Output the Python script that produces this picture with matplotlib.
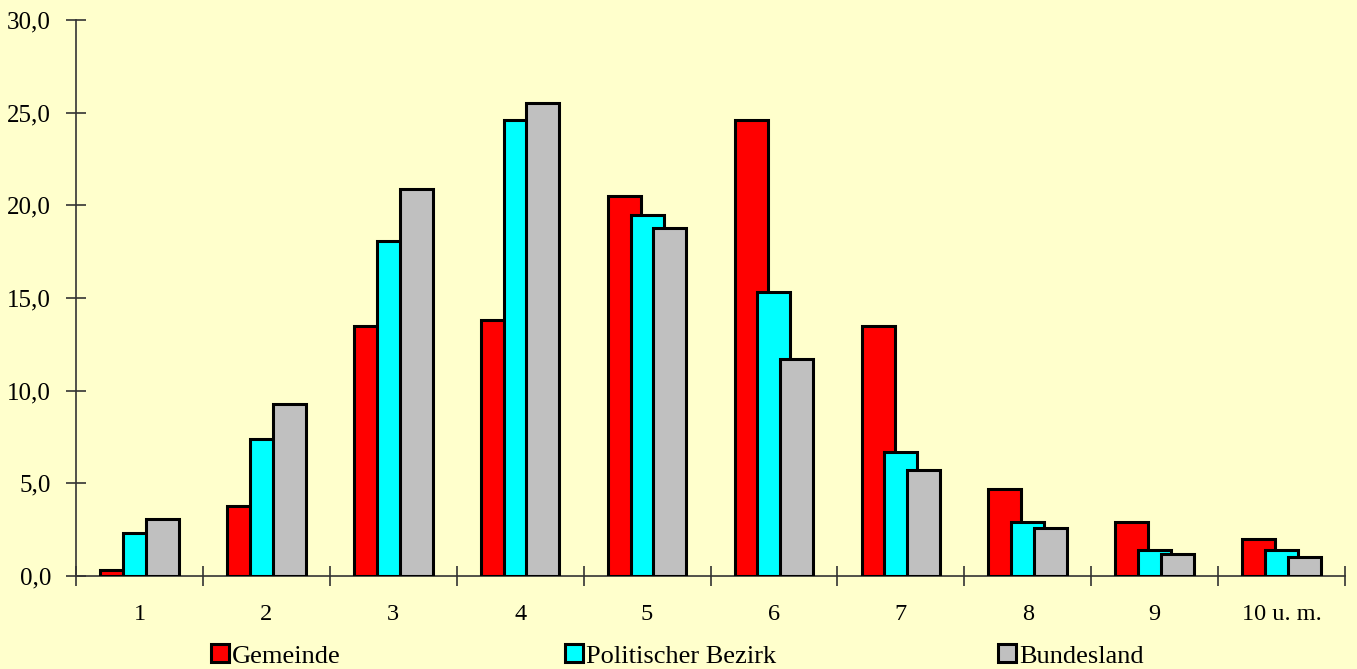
import matplotlib
matplotlib.use("Agg")
import matplotlib.pyplot as plt
import numpy as np
from matplotlib.ticker import FuncFormatter, FixedLocator
from matplotlib.patches import Patch

categories = ["1", "2", "3", "4", "5", "6", "7", "8", "9", "10 u. m."]
series_names = ["Gemeinde", "Politischer Bezirk", "Bundesland"]
gemeinde = [0.3, 3.8, 13.5, 13.8, 20.5, 24.6, 13.5, 4.7, 2.9, 2.0]
bezirk = [2.3, 7.4, 18.1, 24.6, 19.5, 15.3, 6.7, 2.9, 1.4, 1.4]
bundesland = [3.1, 9.3, 20.9, 25.5, 18.8, 11.7, 5.7, 2.6, 1.2, 1.0]
colors = ["#FF0000", "#00FFFF", "#C0C0C0"]
yticks = [0, 5, 10, 15, 20, 25, 30]

plt.rcParams['font.family'] = ['Liberation Serif', 'DejaVu Serif']
bg = "#FFFFCC"
fig = plt.figure(figsize=(13.57, 6.69), dpi=100, facecolor=bg)
ax = fig.add_axes([76/1357, 93/669, (1345-76)/1357, (576-20)/669])
ax.set_facecolor(bg)

x = np.arange(len(categories))
offsets = [-0.18, 0.0, 0.18]
width = 0.26
for vals, off, col, name in zip([gemeinde, bezirk, bundesland], offsets, colors, series_names):
    ax.bar(x + off, vals, width=width, color=col, edgecolor="black", linewidth=2.2, label=name, zorder=3)

ax.set_xlim(-0.5, len(categories) - 0.5)
ax.set_ylim(0, 30)
for s in ["top", "right"]:
    ax.spines[s].set_visible(False)
for s in ["left", "bottom"]:
    ax.spines[s].set_color("#333333")
    ax.spines[s].set_linewidth(1.2)

ax.set_yticks(yticks)
ax.yaxis.set_major_formatter(FuncFormatter(lambda v, p: f"{v:.1f}".replace(".", ",")))
ax.tick_params(axis='y', direction='inout', length=14, width=1.2, color="#333333", labelsize=18, pad=11)

ax.set_xticks(x)
ax.set_xticklabels(categories)
ax.xaxis.set_minor_locator(FixedLocator(np.arange(len(categories) + 1) - 0.5))
ax.tick_params(axis='x', which='major', length=0, labelsize=17.5, pad=20)
ax.tick_params(axis='x', which='minor', direction='inout', length=14, width=1.2, color="#333333")

legend_x = [211, 565, 998]
for name, col, lx in zip(series_names, colors, legend_x):
    h = Patch(facecolor=col, edgecolor="black", linewidth=2.2)
    fig.legend(handles=[h], labels=[name], loc='center left',
               bbox_to_anchor=(lx/1357, 1 - 656/669), frameon=False,
               fontsize=19, handlelength=0.68, handleheight=0.68,
               handletextpad=0.12, borderpad=0, borderaxespad=0)

fig.savefig("out.png", dpi=100, facecolor=bg)
